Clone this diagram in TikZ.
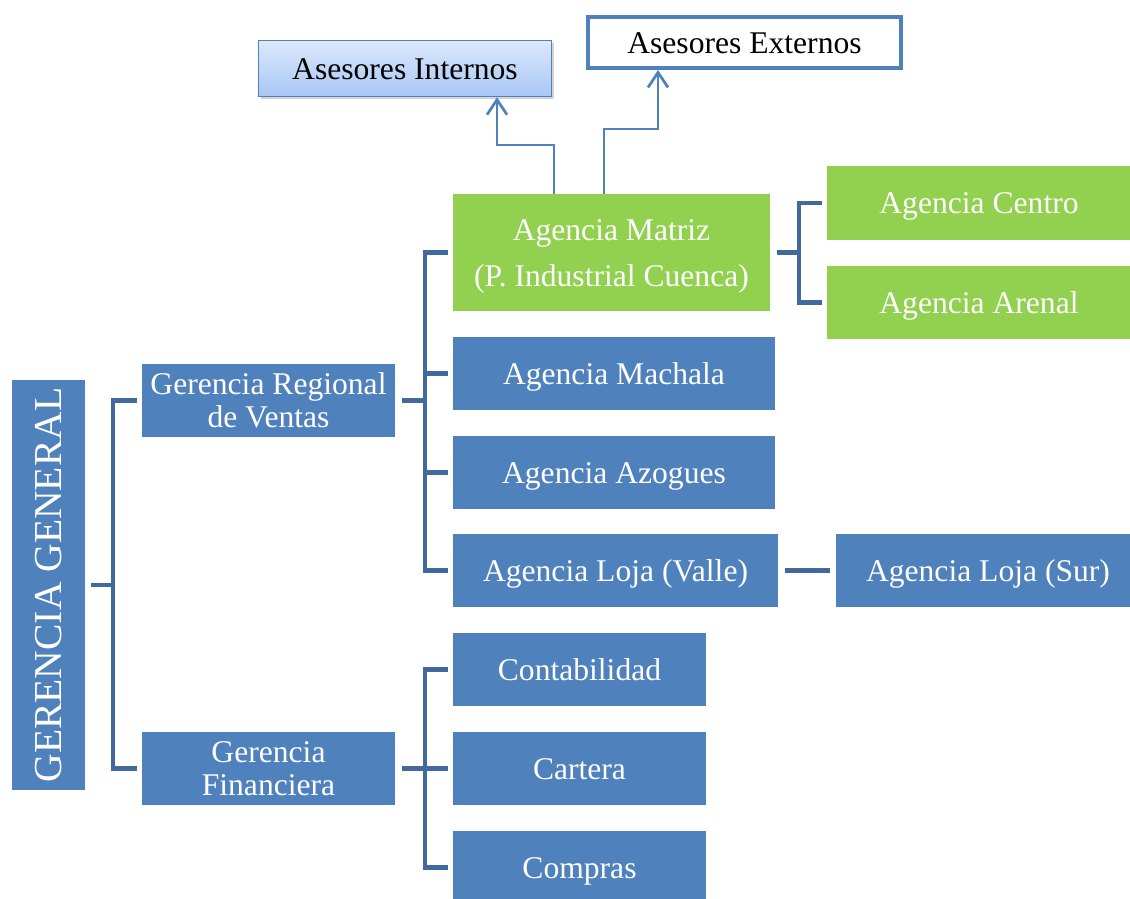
\documentclass[tikz,border=0pt]{standalone}
\usepackage{fontspec}
\setmainfont{Liberation Serif}
\usetikzlibrary{calc,arrows.meta,shadows}
\definecolor{boxblue}{HTML}{4F81BD}
\definecolor{boxgreen}{HTML}{92D050}
\definecolor{linkblue}{HTML}{41699B}
\definecolor{gradtop}{HTML}{DCE8FB}
\definecolor{gradbot}{HTML}{A8C7F5}
% line strut from the font's ascent and descent, so lines centre like in a text box
\newcommand\linestrut{\rule[-0.216em]{0pt}{1.107em}}
\newcommand\boxfont{\fontsize{31.6}{32.5}\selectfont\lineskiplimit=-1000pt\relax}
\newcommand\widefont{\fontsize{31.6}{46}\selectfont\lineskiplimit=-1000pt\relax}
\begin{document}
\begin{tikzpicture}[x=1pt,y=-1pt,
  unit/.style={rectangle, inner sep=0pt, outer sep=0pt, text=white, align=center,
    font=\boxfont},
  bluebox/.style={unit, fill=boxblue},
  greenbox/.style={unit, fill=boxgreen},
  advisor/.style={rectangle, inner sep=0pt, text=black, align=center, font=\boxfont},
  conn/.style={draw=linkblue, line width=4.5pt},
  arr/.style={draw=boxblue, line width=2.75pt, -{Straight Barb[length=15pt,width=20pt]}}]
\useasboundingbox (0,0) rectangle (1130,899);
\clip (0,0) rectangle (1130,899);

% top management
\node[bluebox, minimum width=73, minimum height=410] (gg) at (48.5,585)
  {\fontsize{39.6}{40}\selectfont\rotatebox{90}{GERENCIA GENERAL}};

% second level
\node[bluebox, minimum width=253, minimum height=73] (grv) at (268.5,400.5)
  {\linestrut Gerencia Regional\\\linestrut de Ventas};
\node[bluebox, minimum width=253, minimum height=73] (gf) at (268.5,768.5)
  {\linestrut Gerencia\\\linestrut Financiera};

% sales agencies
\node[greenbox, minimum width=317, minimum height=117, font=\widefont] (matriz) at (611.5,252.5)
  {\linestrut Agencia Matriz\\\linestrut (P. Industrial Cuenca)};
\node[bluebox, minimum width=322, minimum height=73] (machala) at (614,373.5) {\linestrut Agencia Machala};
\node[bluebox, minimum width=322, minimum height=73] (azogues) at (614,472.5) {\linestrut Agencia Azogues};
\node[bluebox, minimum width=325, minimum height=73] (valle) at (615.5,570.5) {\linestrut Agencia Loja (Valle)};
\node[bluebox, minimum width=304, minimum height=73] (sur) at (988,570.5) {\linestrut Agencia Loja (Sur)};
\node[greenbox, minimum width=304, minimum height=74] (centro) at (979,203) {\linestrut Agencia Centro};
\node[greenbox, minimum width=304, minimum height=73] (arenal) at (979,302.5) {\linestrut Agencia Arenal};

% finance departments
\node[bluebox, minimum width=253, minimum height=73] (conta) at (579.5,669.5) {\linestrut Contabilidad};
\node[bluebox, minimum width=253, minimum height=73] (cartera) at (579.5,768.5) {\linestrut Cartera};
\node[bluebox, minimum width=253, minimum height=73] (compras) at (579.5,867.5) {\linestrut Compras};

% advisors
\node[advisor, draw=boxblue, line width=1.5pt, top color=gradtop, bottom color=gradbot,
  minimum width=293, minimum height=56,
  drop shadow={shadow xshift=2pt, shadow yshift=-2.5pt, opacity=0.35}] (ai) at (405,68.5)
  {\linestrut Asesores Internos};
\node[advisor, draw=boxblue, line width=4pt, fill=white,
  minimum width=313, minimum height=51] (ae) at (744.5,42.5) {\linestrut Asesores Externos};

% brackets
\draw[conn] ($(gg.east)+(6,0)$) -- ($(gg.east)+(28,0)$);
\draw[conn] ($(grv.west)+(-5,0)$) -| ($(gg.east)+(28,0)$) |- ($(gf.west)+(-5,0)$);

\draw[conn] ($(grv.east)+(7,0)$) -- ($(grv.east)+(30,0)$);
\draw[conn] ($(matriz.west)+(-5,0)$) -| ($(valle.west)+(-28,0)$) -- ($(valle.west)+(-5,0)$);
\draw[conn] ($(machala.west)+(-30,0)$) -- ($(machala.west)+(-5,0)$);
\draw[conn] ($(azogues.west)+(-30,0)$) -- ($(azogues.west)+(-5,0)$);

\draw[conn] ($(gf.east)+(7,0)$) -- ($(gf.east)+(30,0)$);
\draw[conn] ($(conta.west)+(-5,0)$) -| ($(compras.west)+(-28,0)$) -- ($(compras.west)+(-5,0)$);
\draw[conn] ($(cartera.west)+(-30,0)$) -- ($(cartera.west)+(-5,0)$);

\draw[conn] ($(matriz.east)+(7,0)$) -- ($(matriz.east)+(30,0)$);
\draw[conn] ($(centro.west)+(-5,0)$) -| ($(arenal.west)+(-28,0)$) -- ($(arenal.west)+(-5,0)$);

\draw[conn] ($(valle.east)+(7,0)$) -- ($(sur.west)+(-6,0)$);

% links to the advisors
\draw[arr] ($(matriz.north)+(-57.5,0)$) -- ++(0,-49) -| ($(ai.south)+(92,0)$);
\draw[arr] ($(matriz.north)+(-7.5,0)$) -- ++(0,-65) -| ($(ae.south)+(-86.5,0)$);
\end{tikzpicture}
\end{document}
